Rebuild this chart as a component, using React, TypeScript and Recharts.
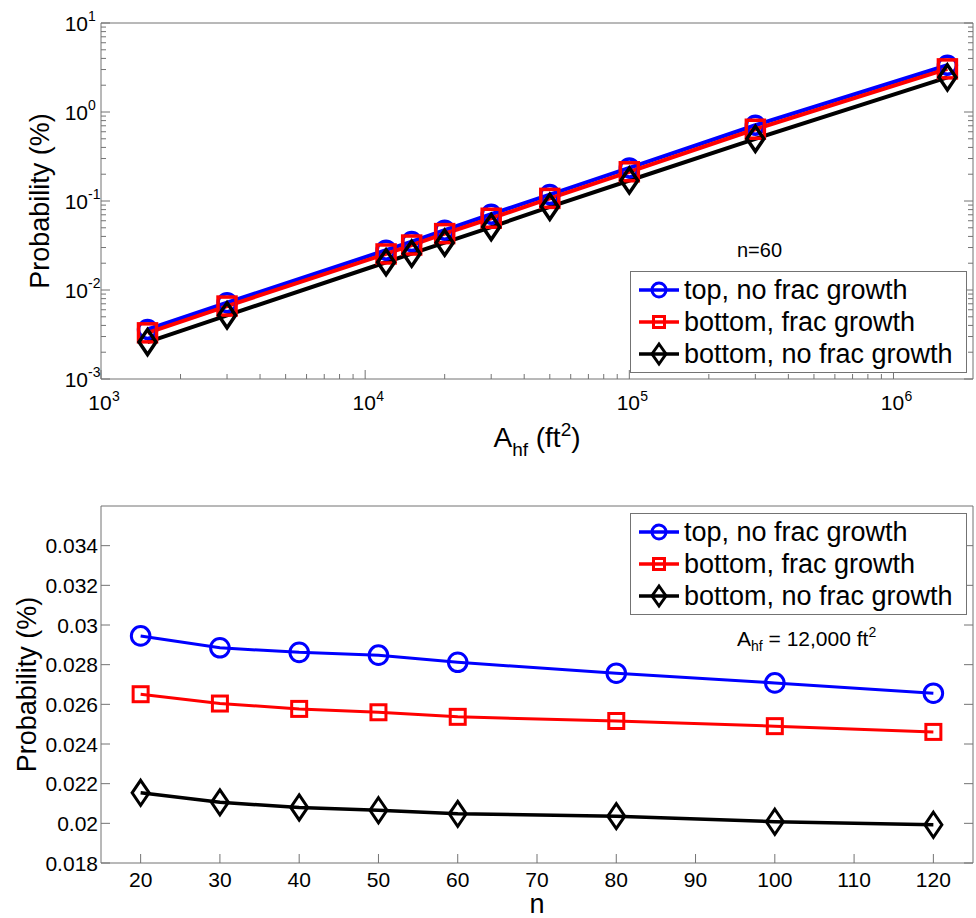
import { LineChart, Line, XAxis, YAxis, Legend } from 'recharts'

const FONT = '"Liberation Sans", Arial, Helvetica, sans-serif'
const AXIS = '#737373'

// top panel: probability vs fracture area (n = 60), log-log
const areaValues = [1500, 3000, 12000, 15000, 20000, 30000, 50000, 100000, 300000, 1600000]
const areaTopNoGrowth = [0.0036, 0.0072, 0.028, 0.035, 0.047, 0.071, 0.118, 0.235, 0.71, 3.35]
const areaBottomGrowth = [0.0033, 0.0066, 0.0254, 0.032, 0.043, 0.064, 0.107, 0.213, 0.64, 3.05]
const areaBottomNoGrowth = [0.0026, 0.0052, 0.0205, 0.0256, 0.034, 0.051, 0.086, 0.17, 0.5, 2.45]

// bottom panel: probability vs n (A_hf = 12,000 ft2)
const nValues = [20, 30, 40, 50, 60, 80, 100, 120]
const nTopNoGrowth = [0.02945, 0.02885, 0.02862, 0.02848, 0.02812, 0.02757, 0.02708, 0.02656]
const nBottomGrowth = [0.02651, 0.02604, 0.02577, 0.0256, 0.02537, 0.02516, 0.0249, 0.02461]
const nBottomNoGrowth = [0.02154, 0.02106, 0.0208, 0.02066, 0.02048, 0.02036, 0.02008, 0.01993]

const nTicks = [20, 30, 40, 50, 60, 70, 80, 90, 100, 110, 120]
const probTicks = [0.018, 0.02, 0.022, 0.024, 0.026, 0.028, 0.03, 0.032, 0.034]

const seriesNames = ['top, no frac growth', 'bottom, frac growth', 'bottom, no frac growth']
const seriesColors = ['#0000ff', '#ff0000', '#000000']
const seriesShapes = ['circle', 'square', 'diamond']

// decade ticks plus 2..9 minor ticks
function logTicks(fromExp: number, toExp: number) {
  const out: number[] = []
  for (let e = fromExp; e < toExp; e++) {
    for (let m = 1; m < 10; m++) out.push(m * Math.pow(10, e))
  }
  out.push(Math.pow(10, toExp))
  return out
}
const areaTicks = logTicks(3, 6)
const logProbTicks = logTicks(-3, 1)

const areaData = areaValues.map((a, i) => ({
  a,
  s0: areaTopNoGrowth[i],
  s1: areaBottomGrowth[i],
  s2: areaBottomNoGrowth[i],
}))
const nData = nValues.map((n, i) => ({
  n,
  s0: nTopNoGrowth[i],
  s1: nBottomGrowth[i],
  s2: nBottomNoGrowth[i],
}))

const exp10 = (v: number) => Math.round(Math.log10(v))
const isDecade = (v: number) => Math.abs(Math.log10(v) - exp10(v)) < 1e-6

function Marker({ cx, cy, shape, color, size, sw }: any) {
  if (cx == null || cy == null) return null
  if (shape === 'circle') return <circle cx={cx} cy={cy} r={size.r} fill="none" stroke={color} strokeWidth={sw} />
  if (shape === 'square') {
    const h = size.h
    return <rect x={cx - h} y={cy - h} width={2 * h} height={2 * h} fill="none" stroke={color} strokeWidth={sw} />
  }
  const { dw, dh } = size
  return (
    <path
      d={`M${cx},${cy - dh}L${cx + dw},${cy}L${cx},${cy + dh}L${cx - dw},${cy}Z`}
      fill="none"
      stroke={color}
      strokeWidth={sw}
      strokeLinejoin="miter"
    />
  )
}

// ticks are drawn inward, labels outside, like the original
function AxisTick({ x, y, payload, side, log, fmt }: any) {
  const v = payload.value
  const major = !log || isDecade(v)
  const len = major ? 9 : 5
  let line: number[] = []
  if (side === 'bottom') line = [x, y, x, y - len]
  if (side === 'top') line = [x, y, x, y + len]
  if (side === 'left') line = [x, y, x + len, y]
  if (side === 'right') line = [x, y, x - len, y]
  let label = null
  if (side === 'bottom' && log && major) {
    label = (
      <g fontFamily={FONT} fill="#000">
        <text x={x - 1} y={y + 31} fontSize={21} textAnchor="middle">10</text>
        <text x={x + 11} y={y + 22} fontSize={14} textAnchor="start">{exp10(v)}</text>
      </g>
    )
  }
  if (side === 'left' && log && major) {
    label = (
      <g fontFamily={FONT} fill="#000">
        <text x={x - 13} y={y + 8} fontSize={21} textAnchor="end">10</text>
        <text x={x - 13} y={y - 2} fontSize={14} textAnchor="start">{exp10(v)}</text>
      </g>
    )
  }
  if (side === 'bottom' && !log) {
    label = (
      <text x={x} y={y + 24} fontSize={21} fontFamily={FONT} fill="#000" textAnchor="middle">
        {fmt(v)}
      </text>
    )
  }
  if (side === 'left' && !log) {
    label = (
      <text x={x - 3} y={y + 7.5} fontSize={21} fontFamily={FONT} fill="#000" textAnchor="end">
        {fmt(v)}
      </text>
    )
  }
  return (
    <g>
      <line x1={line[0]} y1={line[1]} x2={line[2]} y2={line[3]} stroke={AXIS} strokeWidth={1} />
      {label}
    </g>
  )
}

function LegendBox() {
  return (
    <div
      style={{
        width: 337,
        height: 102,
        border: `1px solid ${AXIS}`,
        background: '#fff',
        boxSizing: 'border-box',
        paddingTop: 2,
        fontFamily: FONT,
        fontSize: 27,
        color: '#000',
      }}
    >
      {seriesNames.map((name, i) => (
        <div key={name} style={{ display: 'flex', alignItems: 'center', height: 32, whiteSpace: 'nowrap' }}>
          <svg width={53} height={32} style={{ flex: 'none' }}>
            <line x1={8} y1={16} x2={48} y2={16} stroke={seriesColors[i]} strokeWidth={3.5} />
            <Marker cx={28} cy={16} shape={seriesShapes[i]} color={seriesColors[i]} size={{ r: 7, h: 5.5, dw: 7, dh: 10 }} sw={3} />
          </svg>
          <span style={{ lineHeight: '32px' }}>{name}</span>
        </div>
      ))}
    </div>
  )
}

const yTitle = (p: any) => {
  const vb = p.viewBox
  const cy = vb.y + vb.height / 2
  return (
    <text
      x={p.bx}
      y={cy}
      transform={`rotate(-90, ${p.bx}, ${cy})`}
      textAnchor="middle"
      fontSize={27}
      fontFamily={FONT}
      fill="#000"
    >
      Probability (%)
    </text>
  )
}

export default function App() {
  const topSizes = { r: 9, h: 9, dw: 8.5, dh: 12.5 }
  const botSizes = { r: 9.3, h: 7.5, dw: 8.5, dh: 12.5 }
  return (
    <div style={{ position: 'absolute', left: 0, top: 0, width: 976, height: 918, background: '#fff' }}>
      {/* top panel */}
      <div style={{ position: 'absolute', left: 0, top: 0 }}>
        <LineChart width={976} height={459} data={areaData} margin={{ top: 22, right: 2, bottom: 40, left: 0 }}>
          <XAxis
            dataKey="a"
            type="number"
            scale="log"
            domain={[1000, 2000000]}
            allowDataOverflow
            ticks={areaTicks}
            interval={0}
            height={40}
            tickSize={0}
            tickMargin={0}
            stroke={AXIS}
            tick={(p: any) => <AxisTick {...p} side="bottom" log />}
            label={(p: any) => {
              const vb = p.viewBox
              const cx = vb.x + vb.width / 2
              return (
                <text x={cx} y={447} textAnchor="middle" fontFamily={FONT} fontSize={28} fill="#000">
                  <tspan>A</tspan>
                  <tspan fontSize={19} dy={9}>hf</tspan>
                  <tspan dy={-9}> (ft</tspan>
                  <tspan fontSize={19} dy={-11}>2</tspan>
                  <tspan dy={11}>)</tspan>
                </text>
              )
            }}
          />
          <XAxis
            xAxisId="top"
            orientation="top"
            type="number"
            scale="log"
            domain={[1000, 2000000]}
            allowDataOverflow
            ticks={areaTicks}
            interval={0}
            height={1}
            tickSize={0}
            tickMargin={0}
            stroke={AXIS}
            tick={(p: any) => <AxisTick {...p} side="top" log />}
          />
          <YAxis
            type="number"
            scale="log"
            domain={[0.001, 10]}
            allowDataOverflow
            ticks={logProbTicks}
            interval={0}
            width={101}
            tickSize={0}
            tickMargin={0}
            stroke={AXIS}
            tick={(p: any) => <AxisTick {...p} side="left" log />}
            label={(p: any) => yTitle({ ...p, bx: 49 })}
          />
          <YAxis
            yAxisId="right"
            orientation="right"
            type="number"
            scale="log"
            domain={[0.001, 10]}
            allowDataOverflow
            ticks={logProbTicks}
            interval={0}
            width={1}
            tickSize={0}
            tickMargin={0}
            stroke={AXIS}
            tick={(p: any) => <AxisTick {...p} side="right" log />}
          />
          {['s0', 's1', 's2'].map((k, i) => (
            <Line
              key={k}
              dataKey={k}
              name={seriesNames[i]}
              stroke={seriesColors[i]}
              strokeWidth={4}
              isAnimationActive={false}
              activeDot={false}
              dot={(p: any) => (
                <Marker key={p.index} cx={p.cx} cy={p.cy} shape={seriesShapes[i]} color={seriesColors[i]} size={topSizes} sw={3.5} />
              )}
            />
          ))}
          <Legend
            layout="vertical"
            align="center"
            verticalAlign="middle"
            content={() => <LegendBox />}
            wrapperStyle={{ left: 630, top: 271, width: 337, height: 102 }}
          />
        </LineChart>
      </div>

      {/* bottom panel */}
      <div style={{ position: 'absolute', left: 0, top: 459 }}>
        <LineChart width={976} height={459} data={nData} margin={{ top: 46, right: 2, bottom: 25, left: 0 }}>
          <XAxis
            dataKey="n"
            type="number"
            domain={[15, 125]}
            allowDataOverflow
            ticks={nTicks}
            interval={0}
            height={30}
            tickSize={0}
            tickMargin={0}
            stroke={AXIS}
            tick={(p: any) => <AxisTick {...p} side="bottom" fmt={(v: number) => String(v)} />}
            label={(p: any) => {
              const vb = p.viewBox
              return (
                <text x={vb.x + vb.width / 2} y={454} textAnchor="middle" fontFamily={FONT} fontSize={27} fill="#000">
                  n
                </text>
              )
            }}
          />
          <XAxis
            xAxisId="top"
            orientation="top"
            type="number"
            domain={[15, 125]}
            allowDataOverflow
            ticks={nTicks}
            interval={0}
            height={1}
            tickSize={0}
            tickMargin={0}
            stroke={AXIS}
            tick={(p: any) => <AxisTick {...p} side="top" />}
          />
          <YAxis
            type="number"
            domain={[0.018, 0.036]}
            allowDataOverflow
            ticks={probTicks}
            interval={0}
            width={101}
            tickSize={0}
            tickMargin={0}
            stroke={AXIS}
            tick={(p: any) => <AxisTick {...p} side="left" fmt={(v: number) => String(+v.toFixed(3))} />}
            label={(p: any) => yTitle({ ...p, bx: 36 })}
          />
          <YAxis
            yAxisId="right"
            orientation="right"
            type="number"
            domain={[0.018, 0.036]}
            allowDataOverflow
            ticks={probTicks}
            interval={0}
            width={1}
            tickSize={0}
            tickMargin={0}
            stroke={AXIS}
            tick={(p: any) => <AxisTick {...p} side="right" />}
          />
          {['s0', 's1', 's2'].map((k, i) => (
            <Line
              key={k}
              dataKey={k}
              name={seriesNames[i]}
              stroke={seriesColors[i]}
              strokeWidth={i === 2 ? 3.5 : 3}
              isAnimationActive={false}
              activeDot={false}
              dot={(p: any) => (
                <Marker key={p.index} cx={p.cx} cy={p.cy} shape={seriesShapes[i]} color={seriesColors[i]} size={botSizes} sw={3} />
              )}
            />
          ))}
          <Legend
            layout="vertical"
            align="center"
            verticalAlign="middle"
            content={() => <LegendBox />}
            wrapperStyle={{ left: 630, top: 54, width: 337, height: 102 }}
          />
        </LineChart>
      </div>

      {/* text annotations */}
      <svg
        width={976}
        height={918}
        style={{ position: 'absolute', left: 0, top: 0, pointerEvents: 'none' }}
        fontFamily={FONT}
        fill="#000"
      >
        <text x={737} y={257} fontSize={20}>n=60</text>
        <text x={737} y={646} fontSize={21}>
          <tspan>A</tspan>
          <tspan fontSize={14} dy={5}>hf</tspan>
          <tspan dy={-5}> = 12,000 ft</tspan>
          <tspan fontSize={14} dy={-9}>2</tspan>
        </text>
      </svg>
    </div>
  )
}
